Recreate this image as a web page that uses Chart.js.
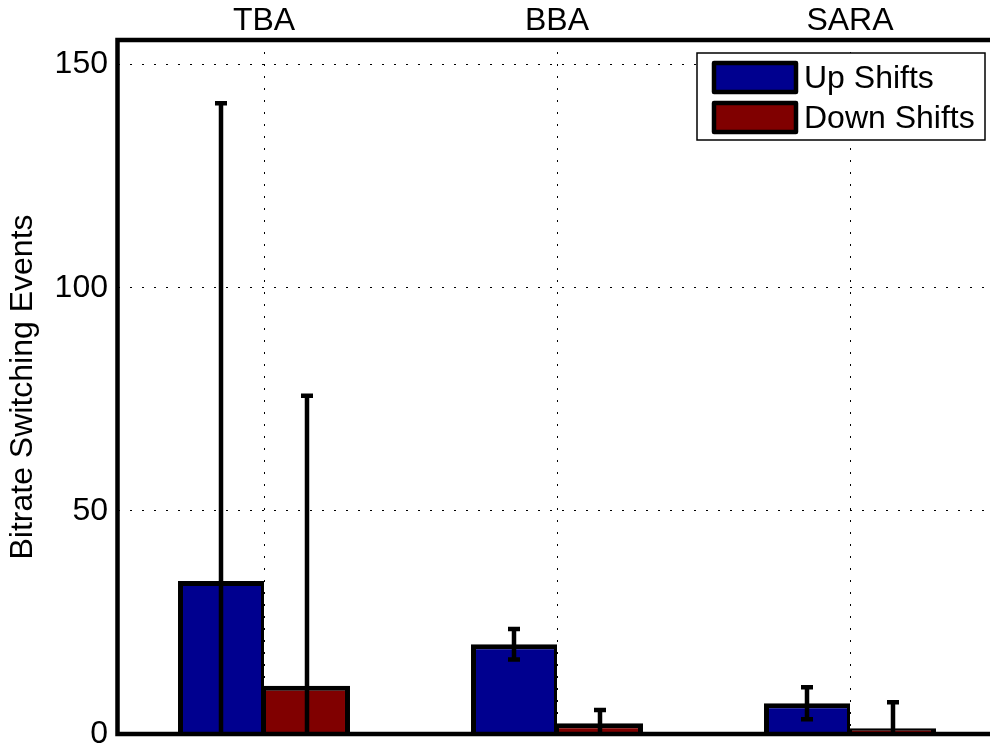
<!DOCTYPE html>
<html>
<head>
<meta charset="utf-8">
<script src="https://cdn.jsdelivr.net/npm/chart.js@4.4.1/dist/chart.umd.min.js"></script>
<style>
  html, body { margin: 0; padding: 0; background: #fff; overflow: hidden; }
  canvas { display: block; }
</style>
</head>
<body>
<canvas id="chart" width="1000" height="749"></canvas>
<script>
// =========================
// DATA
// =========================
const categories = ["TBA", "BBA", "SARA"];
const seriesNames = ["Up Shifts", "Down Shifts"];
const upShifts = [34.3, 20.1, 6.9];
const upErr = [107, 3.4, 3.6];
const downShifts = [10.8, 2.4, 1.3];
const downErr = [65, 3.0, 5.8];
const yTicks = [0, 50, 100, 150];
const yMax = 155.5;

const BLUE = "#00008F";
const RED = "#800000";
const FONT = "'Liberation Sans', Arial, sans-serif";
const FSIZE = 32;

Chart.defaults.font.family = FONT;
Chart.defaults.color = "#000";

// error bars drawn over the bars, clipped to the axes box
const errorBarPlugin = {
    id: "errorBars",
    afterDatasetsDraw(chart) {
        const ctx = chart.ctx;
        const area = chart.chartArea;
        const y = chart.scales.y;
        ctx.save();
        ctx.beginPath();
        ctx.rect(area.left, area.top, area.right - area.left, area.bottom - area.top);
        ctx.clip();
        ctx.strokeStyle = "#000";
        ctx.lineWidth = 4.5;
        ctx.lineCap = "butt";
        chart.data.datasets.forEach((ds, di) => {
            const meta = chart.getDatasetMeta(di);
            meta.data.forEach((bar, i) => {
                const v = ds.data[i];
                const e = ds.errors[i];
                const yHi = y.getPixelForValue(v + e);
                const yLo = y.getPixelForValue(Math.max(v - e, 0));
                ctx.beginPath();
                ctx.moveTo(bar.x, yHi);
                ctx.lineTo(bar.x, yLo);
                ctx.stroke();
                // caps
                ctx.beginPath();
                ctx.moveTo(bar.x - 6, yHi);
                ctx.lineTo(bar.x + 6, yHi);
                if (v - e >= 0) {
                    ctx.moveTo(bar.x - 6, yLo);
                    ctx.lineTo(bar.x + 6, yLo);
                }
                ctx.stroke();
            });
        });
        ctx.restore();
    },
    afterDraw(chart) {
        const ctx = chart.ctx;
        const a = chart.chartArea;
        ctx.save();
        // axes box
        ctx.strokeStyle = "#000";
        ctx.lineWidth = 4.5;
        ctx.lineJoin = "miter";
        ctx.strokeRect(a.left, a.top, a.right - a.left, a.bottom - a.top);

        // legend
        const lx = 697, ly = 53, lw = 288, lh = 87;
        ctx.fillStyle = "#fff";
        ctx.fillRect(lx, ly, lw, lh);
        ctx.lineWidth = 1.5;
        ctx.strokeRect(lx, ly, lw, lh);
        const colors = [BLUE, RED];
        ctx.font = FSIZE + "px " + FONT;
        ctx.textBaseline = "middle";
        ctx.textAlign = "left";
        seriesNames.forEach((name, i) => {
            const sy = 63 + i * 40;
            ctx.fillStyle = colors[i];
            ctx.fillRect(714, sy, 82, 29);
            ctx.lineWidth = 4.5;
            ctx.strokeStyle = "#000";
            ctx.lineJoin = "round";
            ctx.strokeRect(714, sy, 82, 29);
            ctx.fillStyle = "#000";
            ctx.fillText(name, 804, sy + 16);
        });
        ctx.restore();
    }
};

new Chart(document.getElementById("chart"), {
    type: "bar",
    data: {
        labels: categories,
        datasets: [
            {
                label: seriesNames[0],
                data: upShifts,
                errors: upErr,
                backgroundColor: BLUE,
                borderColor: "#000",
                borderWidth: { top: 5, left: 5, right: 3, bottom: 0 },
                borderSkipped: false
            },
            {
                label: seriesNames[1],
                data: downShifts,
                errors: downErr,
                backgroundColor: RED,
                borderColor: "#000",
                borderWidth: { top: 5, left: 2, right: 5, bottom: 0 },
                borderSkipped: false
            }
        ]
    },
    options: {
        responsive: false,
        animation: false,
        layout: { padding: { left: 0, top: 0, right: 3.5, bottom: 15 } },
        plugins: {
            legend: { display: false },
            tooltip: { enabled: false }
        },
        datasets: {
            bar: { barPercentage: 1, categoryPercentage: 0.587 }
        },
        scales: {
            x: {
                position: "top",
                offset: true,
                border: { display: false, dash: [2, 10] },
                grid: {
                    offset: false,
                    drawTicks: false,
                    color: "#000",
                    lineWidth: 1
                },
                ticks: { font: { size: FSIZE }, padding: 0, color: "#000" },
                afterFit(scale) {
                    scale.height = 40;
                    scale.paddingLeft = 0;
                    scale.paddingRight = 0;
                }
            },
            y: {
                min: 0,
                max: yMax,
                border: { display: false, dash: [2, 10] },
                grid: {
                    drawTicks: false,
                    color: c => (c.tick && c.tick.value === 0) ? "rgba(0,0,0,0)" : "#000",
                    lineWidth: 1
                },
                ticks: {
                    font: { size: FSIZE },
                    padding: 9.5,
                    color: "#000"
                },
                afterBuildTicks(scale) {
                    scale.ticks = yTicks.map(v => ({ value: v }));
                },
                title: {
                    display: true,
                    text: "Bitrate Switching Events",
                    font: { size: FSIZE },
                    color: "#000",
                    padding: { top: 4, bottom: 0 }
                },
                afterFit(scale) {
                    scale.width = 117.5;
                    scale.paddingTop = 0;
                    scale.paddingBottom = 0;
                }
            }
        }
    },
    plugins: [errorBarPlugin]
});
</script>
</body>
</html>
